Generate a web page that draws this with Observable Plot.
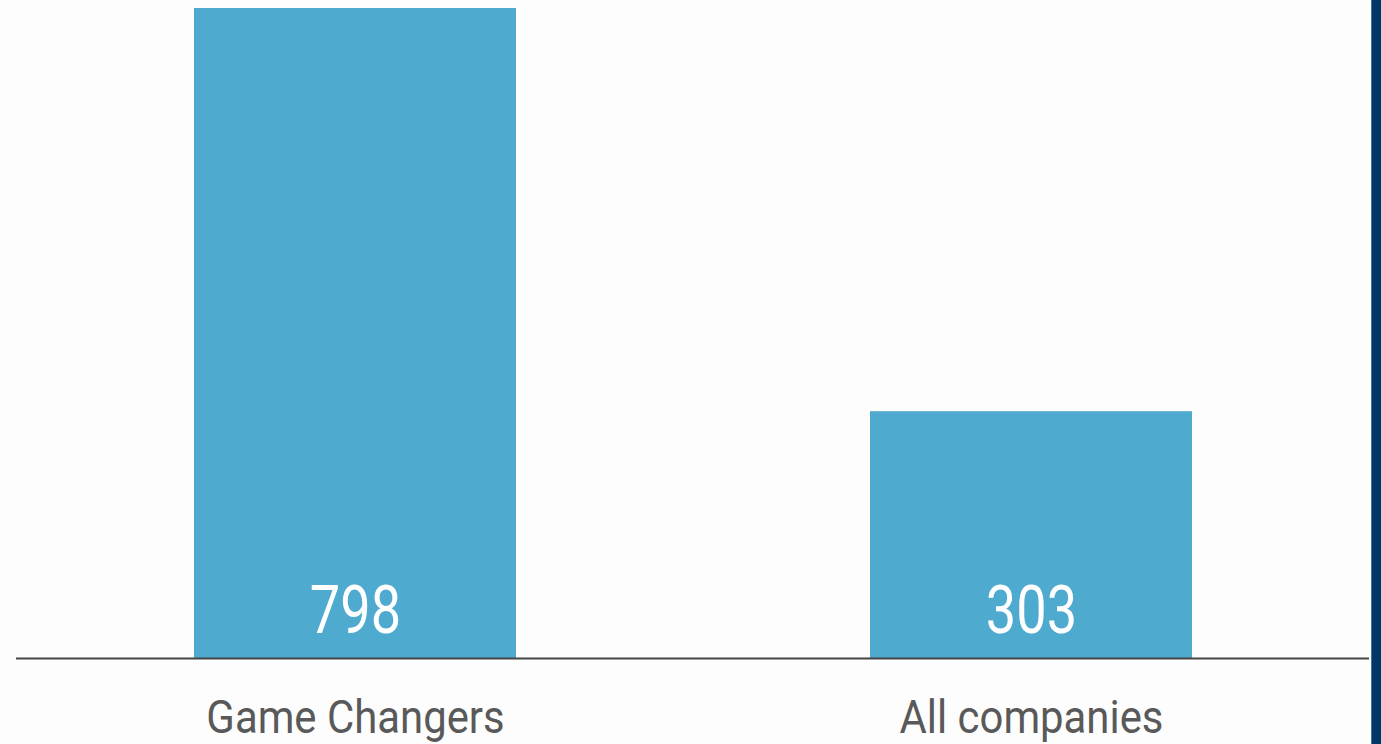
<!DOCTYPE html>
<html>
<head>
<meta charset="utf-8">
<script src="https://cdn.jsdelivr.net/npm/d3@7"></script>
<script src="https://cdn.jsdelivr.net/npm/@observablehq/plot@0.6"></script>
<style>
  html, body { margin: 0; padding: 0; background: #ffffff; overflow: hidden; }
  #wrap { position: relative; width: 1381px; height: 744px; background: #fdfdfd; }
  #strip { position: absolute; top: 0; right: 0; width: 10px; height: 744px; background: #003767; border-left: 1px solid #4a6f96; box-sizing: border-box; }
  #chart { position: absolute; left: 0; top: 0; }
</style>
</head>
<body>
<div id="wrap"><div id="chart"></div><div id="strip"></div></div>
<script>
const categories = ["Game Changers", "All companies"];
const values = [798, 303];
const labels = ["798", "303"];

const data = categories.map((c, i) => ({category: c, value: values[i], label: labels[i]}));

const chart = Plot.plot({
  width: 1381,
  height: 744,
  marginLeft: 16,
  marginRight: 12,
  marginTop: 8,
  marginBottom: 86,
  style: {fontFamily: "Roboto, sans-serif", background: "transparent", color: "#595959"},
  x: {domain: categories, paddingInner: 0.524, paddingOuter: 0.262, label: null},
  y: {domain: [0, 798], axis: null},
  marks: [
    Plot.barY(data, {x: "category", y: "value", fill: "#4eaacf"}),
    Plot.ruleY([0], {stroke: "#444444", strokeWidth: 2}),
    Plot.text(data, {x: "category", y: 0, text: "label", fill: "#ffffff", fontSize: 66, lineAnchor: "bottom", dy: -26, className: "vlabel"}),
    Plot.axisX({tickSize: 0, tickPadding: 42, fontSize: 46, fill: "#595959", label: null, className: "xlabel"})
  ]
});
document.getElementById("chart").appendChild(chart);

// condense glyphs to imitate a condensed face
function condense(selector, k) {
  chart.querySelectorAll(selector).forEach(t => {
    const w = t.getComputedTextLength();
    if (w > 0) {
      t.setAttribute("textLength", (w * k).toFixed(1));
      t.setAttribute("lengthAdjust", "spacingAndGlyphs");
    }
  });
}
condense(".vlabel text", 0.82);
condense(".xlabel text", 0.91);
</script>
</body>
</html>
